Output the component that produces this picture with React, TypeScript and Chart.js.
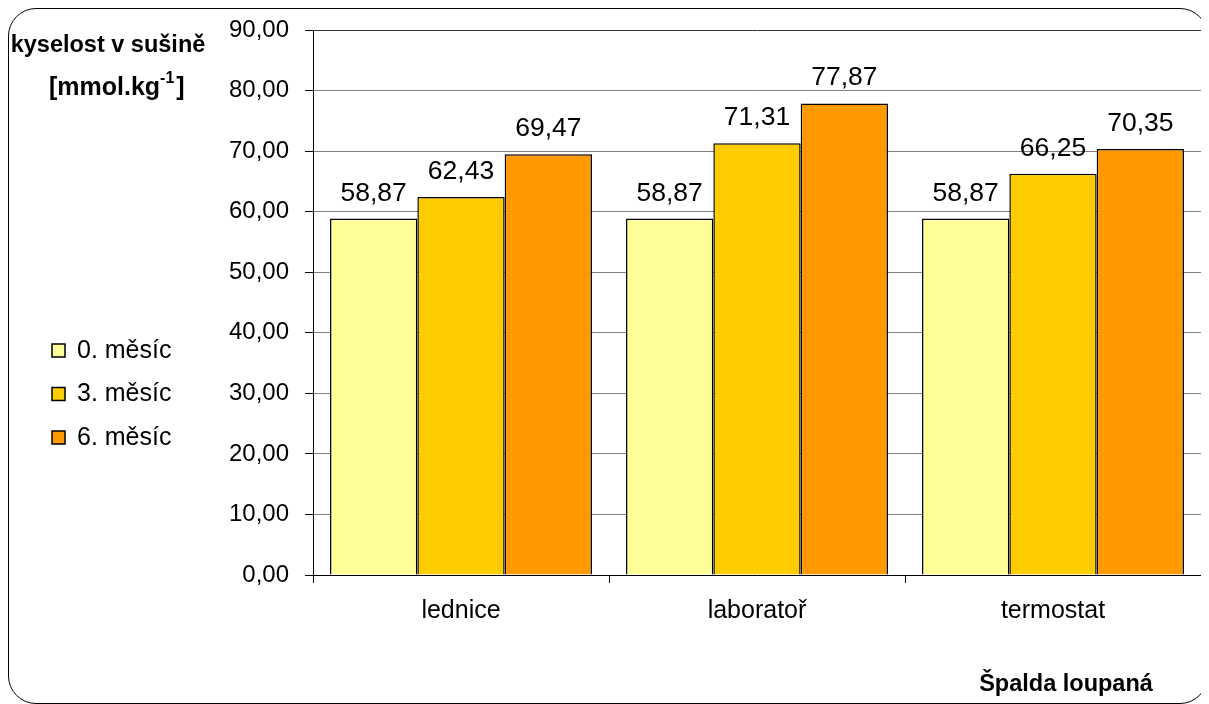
import React, { useEffect, useRef } from "react";
import { Chart, registerables } from "chart.js";

Chart.register(...registerables);

const categories = ["lednice", "laboratoř", "termostat"];
const seriesNames = ["0. měsíc", "3. měsíc", "6. měsíc"];
const month0 = [58.87, 58.87, 58.87];
const month3 = [62.43, 71.31, 66.25];
const month6 = [69.47, 77.87, 70.35];
const seriesColors = ["#FFFF99", "#FFCC00", "#FF9900"];
const yMin = 0;
const yMax = 90;
const yStep = 10;

const FONT = "Arial, 'Liberation Sans', sans-serif";
const fmt = (v: number) => v.toFixed(2).replace(".", ",");

const W = 1200;
const H = 696;

// value labels above each bar
const valueLabels = {
  id: "valueLabels",
  afterDatasetsDraw(chart: any) {
    const ctx = chart.ctx;
    ctx.save();
    ctx.font = `26.5px ${FONT}`;
    ctx.fillStyle = "#000";
    ctx.textAlign = "center";
    ctx.textBaseline = "alphabetic";
    chart.data.datasets.forEach((ds: any, i: number) => {
      const meta = chart.getDatasetMeta(i);
      meta.data.forEach((bar: any, j: number) => {
        ctx.fillText(fmt(ds.data[j]), bar.x, bar.y - 18);
      });
    });
    ctx.restore();
  },
};

// right frame line, axis title, legend and footer caption
const decorations = {
  id: "decorations",
  beforeDatasetsDraw(chart: any) {
    const { ctx, chartArea } = chart;
    ctx.save();
    ctx.strokeStyle = "#808080";
    ctx.lineWidth = 1;
    ctx.beginPath();
    ctx.moveTo(chartArea.right + 0.5, chartArea.top);
    ctx.lineTo(chartArea.right + 0.5, chartArea.bottom + 8);
    ctx.stroke();
    ctx.restore();
  },
  afterDraw(chart: any) {
    const ctx = chart.ctx;
    ctx.save();
    ctx.fillStyle = "#000";
    ctx.textBaseline = "middle";

    // y-axis title
    ctx.font = `bold 23.5px ${FONT}`;
    ctx.textAlign = "center";
    ctx.fillText("kyselost v sušině", 100, 38);
    const p1 = "[mmol.kg";
    const sup = "-1";
    const p2 = "]";
    ctx.textAlign = "left";
    let x = 41;
    ctx.font = `bold 25px ${FONT}`;
    ctx.fillText(p1, x, 80);
    x += ctx.measureText(p1).width;
    ctx.font = `bold 16px ${FONT}`;
    ctx.fillText(sup, x, 71);
    x += ctx.measureText(sup).width + 2;
    ctx.font = `bold 25px ${FONT}`;
    ctx.fillText(p2, x, 80);

    // legend
    ctx.font = `25px ${FONT}`;
    chart.data.datasets.forEach((ds: any, i: number) => {
      const cy = 343 + i * 43.5;
      ctx.fillStyle = ds.backgroundColor;
      ctx.fillRect(44, cy - 7, 13, 13);
      ctx.strokeStyle = "#000";
      ctx.lineWidth = 1.5;
      ctx.strokeRect(44, cy - 7, 13, 13);
      ctx.fillStyle = "#000";
      ctx.fillText(ds.label, 69, cy);
    });

    // footer caption
    ctx.font = `bold 23.5px ${FONT}`;
    ctx.textAlign = "center";
    ctx.fillText("Špalda loupaná", 1058, 677);
    ctx.restore();
  },
};

export default function App() {
  const ref = useRef<HTMLCanvasElement>(null);

  useEffect(() => {
    if (!ref.current) return;
    const data = [month0, month3, month6];
    const chart = new Chart(ref.current, {
      type: "bar",
      data: {
        labels: categories,
        datasets: seriesNames.map((name, i) => ({
          label: name,
          data: data[i],
          backgroundColor: seriesColors[i],
          borderColor: "#000",
          borderWidth: 1.5,
          categoryPercentage: 0.885,
          barPercentage: 1,
        })),
      },
      options: {
        responsive: false,
        animation: false,
        devicePixelRatio: 1,
        layout: { padding: { left: 0, top: 22, right: 7, bottom: 0 } },
        plugins: {
          legend: { display: false },
          tooltip: { enabled: false },
        },
        scales: {
          x: {
            grid: {
              drawOnChartArea: false,
              drawTicks: true,
              tickLength: 8,
              tickColor: "#000",
            },
            border: { color: "#000", width: 1 },
            ticks: {
              color: "#000",
              font: { family: FONT, size: 25 },
              padding: 13,
            },
            afterFit: (s: any) => {
              s.height = H - 567;
              s.paddingLeft = 0;
              s.paddingRight = 0;
            },
          },
          y: {
            min: yMin,
            max: yMax,
            ticks: {
              stepSize: yStep,
              color: "#000",
              font: { family: FONT, size: 24 },
              padding: 16,
              callback: (v: any) => fmt(Number(v)),
            },
            grid: {
              color: (c: any) => (c.tick && c.tick.value === yMax ? "#333" : "#808080"),
              tickColor: "#000",
              tickLength: 8,
            },
            border: { color: "#000", width: 1 },
            afterFit: (s: any) => {
              s.width = 305;
              s.paddingTop = 0;
              s.paddingBottom = 0;
            },
          },
        },
      },
      plugins: [valueLabels, decorations],
    });
    return () => chart.destroy();
  }, []);

  return (
    <div style={{ position: "relative", width: W, height: H }}>
      <canvas
        ref={ref}
        width={W}
        height={H}
        style={{ position: "absolute", left: 0, top: 0, width: W, height: H }}
      />
      <div
        style={{
          position: "absolute",
          left: 0,
          top: 0,
          width: W,
          height: H,
          boxSizing: "border-box",
          border: "1.5px solid #000",
          borderRadius: 28,
          pointerEvents: "none",
        }}
      />
    </div>
  );
}
